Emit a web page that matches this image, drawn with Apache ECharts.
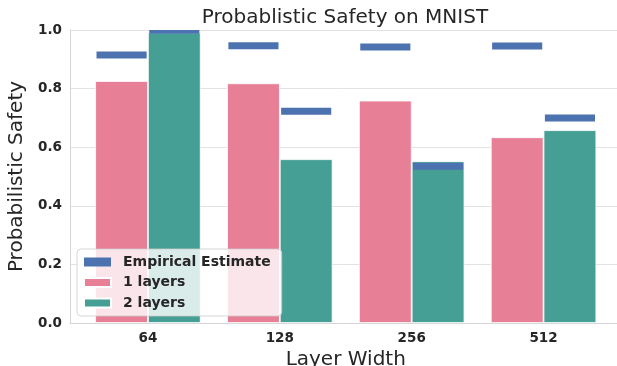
<!DOCTYPE html>
<html>
<head>
<meta charset="utf-8">
<script src="https://cdn.jsdelivr.net/npm/echarts@6/dist/echarts.min.js"></script>
<style>html,body{margin:0;padding:0;background:#fff;}#c{width:617px;height:366px;}</style>
</head>
<body>
<div id="c"></div>
<script>
const categories = ['64', '128', '256', '512'];
const oneLayer = [0.826, 0.818, 0.759, 0.634];
const twoLayers = [0.991, 0.559, 0.552, 0.658];
const empOne = [0.915, 0.946, 0.942, 0.945];
const empTwo = [0.999, 0.7225, 0.535, 0.70];
const yTicks = [0, 0.2, 0.4, 0.6, 0.8, 1.0];

const FONT = 'DejaVu Sans';
const TXT = '#262626';
const PINK = '#e77f97';
const TEAL = '#459f94';
const BLUE = '#4c72b0';

const empData = [];
categories.forEach((c, i) => {
  empData.push([i, -1, empOne[i]]);
  empData.push([i, 1, empTwo[i]]);
});

const chart = echarts.init(document.getElementById('c'), null, {renderer: 'canvas'});
chart.setOption({
  animation: false,
  backgroundColor: '#fff',
  title: {
    text: 'Probablistic Safety on MNIST',
    left: 345, top: 8, textAlign: 'center', padding: 0,
    textStyle: {fontFamily: FONT, fontSize: 20, fontWeight: 'normal', color: TXT}
  },
  legend: {
    orient: 'vertical', left: 77, top: 249,
    padding: [6, 11, 6, 6],
    itemGap: 6.5, itemWidth: 27, itemHeight: 9,
    backgroundColor: 'rgba(255,255,255,0.8)',
    borderColor: 'rgba(204,204,204,0.8)', borderWidth: 1, borderRadius: 4,
    textStyle: {fontFamily: FONT, fontSize: 14, fontWeight: 'bold', color: TXT, padding: [0, 0, 0, 7]},
    data: [
      {name: 'Empirical Estimate', icon: 'rect', itemStyle: {color: BLUE}},
      {name: '1 layers', icon: 'rect'},
      {name: '2 layers', icon: 'rect'}
    ]
  },
  grid: [
    {left: 70, right: 0, top: 30, bottom: 43, containLabel: false, outerBoundsMode: 'none'},
    {left: 82, width: 527.5, top: 30, bottom: 43, containLabel: false, outerBoundsMode: 'none'}
  ],
  xAxis: [
    {gridIndex: 0, type: 'value', min: 0, max: 1, show: true,
     axisLine: {show: true, lineStyle: {color: '#d5d5d5', width: 1}},
     axisTick: {show: false}, axisLabel: {show: false}, splitLine: {show: false}},
    {gridIndex: 1, type: 'category', data: categories,
     axisLine: {show: false}, axisTick: {show: false},
     axisLabel: {fontFamily: FONT, fontSize: 13.5, fontWeight: 'bold', color: TXT, margin: 8},
     name: 'Layer Width', nameLocation: 'middle', nameGap: 22,
     nameTextStyle: {fontFamily: FONT, fontSize: 20, color: TXT}}
  ],
  yAxis: [
    {gridIndex: 0, type: 'value', min: 0, max: 1, interval: 0.2,
     axisLine: {show: true, lineStyle: {color: '#d5d5d5', width: 1}},
     axisTick: {show: false},
     axisLabel: {fontFamily: FONT, fontSize: 13.5, fontWeight: 'bold', color: TXT, margin: 8,
       formatter: v => {const t = yTicks.find(x => Math.abs(x - v) < 1e-9); return (t !== undefined ? t : v).toFixed(1);}},
     splitLine: {show: true, lineStyle: {color: '#e2e2e2', width: 1}},
     name: 'Probabilistic Safety', nameLocation: 'middle', nameGap: 41,
     nameTextStyle: {fontFamily: FONT, fontSize: 20, color: TXT}},
    {gridIndex: 1, type: 'value', min: 0, max: 1, show: false}
  ],
  series: [
    {name: '1 layers', type: 'bar', xAxisIndex: 1, yAxisIndex: 1, data: oneLayer,
     barWidth: '40%', barGap: '0%', z: 2,
     itemStyle: {color: PINK, borderColor: '#ffffff', borderWidth: 0.8}},
    {name: '2 layers', type: 'bar', xAxisIndex: 1, yAxisIndex: 1, data: twoLayers,
     barWidth: '40%', barGap: '0%', z: 2,
     itemStyle: {color: TEAL, borderColor: '#ffffff', borderWidth: 0.8}},
    {name: 'Empirical Estimate', type: 'custom', xAxisIndex: 1, yAxisIndex: 1, z: 5, clip: true,
     itemStyle: {color: BLUE},
     encode: {x: 0, y: 2},
     data: empData,
     renderItem: function (params, api) {
       const ci = api.value(0), side = api.value(1), v = api.value(2);
       const p = api.coord([ci, v]);
       const band = api.size([1, 0])[0];
       const cx = p[0] + side * band * 0.2;
       const w = band * 0.38, h = 7;
       return {
         type: 'rect',
         shape: {x: cx - w / 2, y: p[1] - h / 2, width: w, height: h},
         style: {fill: BLUE}
       };
     }}
  ]
});
</script>
</body>
</html>
